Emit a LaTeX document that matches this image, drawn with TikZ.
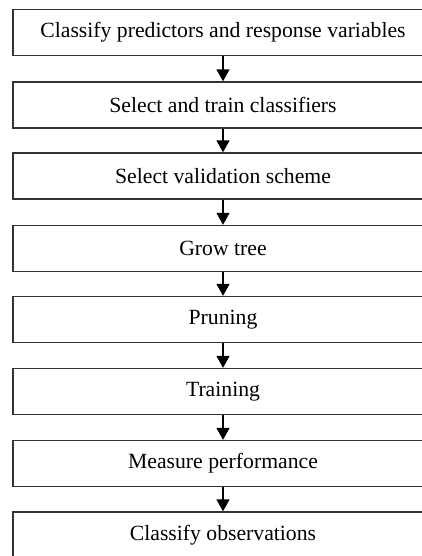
\documentclass[tikz,border=0pt]{standalone}
\usepackage{fontspec}
\setmainfont{Liberation Serif}
\usetikzlibrary{arrows.meta}

\begin{document}
\begin{tikzpicture}[x=0.5pt,y=-0.5pt,
    stage/.style={draw=black!80,line width=0.7pt,minimum width=210pt,minimum height=23pt,inner sep=0pt,font=\fontsize{10.85}{13}\selectfont},
    >={Triangle[width=6.5pt,length=6pt]}, line width=0.8pt]
    \clip (0,0) rectangle (422,556);
    \fill[white] (0,0) rectangle (422,556);
    \node[stage] (a) at (223,32.5) {Classify predictors and response variables};
    \node[stage] (b) at (223,105) {Select and train classifiers};
    \node[stage] (c) at (223,176) {Select validation scheme};
    \node[stage] (d) at (223,248.5) {Grow tree};
    \node[stage] (e) at (223,319.5) {Pruning};
    \node[stage] (f) at (223,391.5) {Training};
    \node[stage] (g) at (223,463.5) {Measure performance};
    \node[stage] (h) at (223,535) {Classify observations};
    \draw[->] (a) -- (b);
    \draw[->] (b) -- (c);
    \draw[->] (c) -- (d);
    \draw[->] (d) -- (e);
    \draw[->] (e) -- (f);
    \draw[->] (f) -- (g);
    \draw[->] (g) -- (h);
    \end{tikzpicture}
\end{document}
